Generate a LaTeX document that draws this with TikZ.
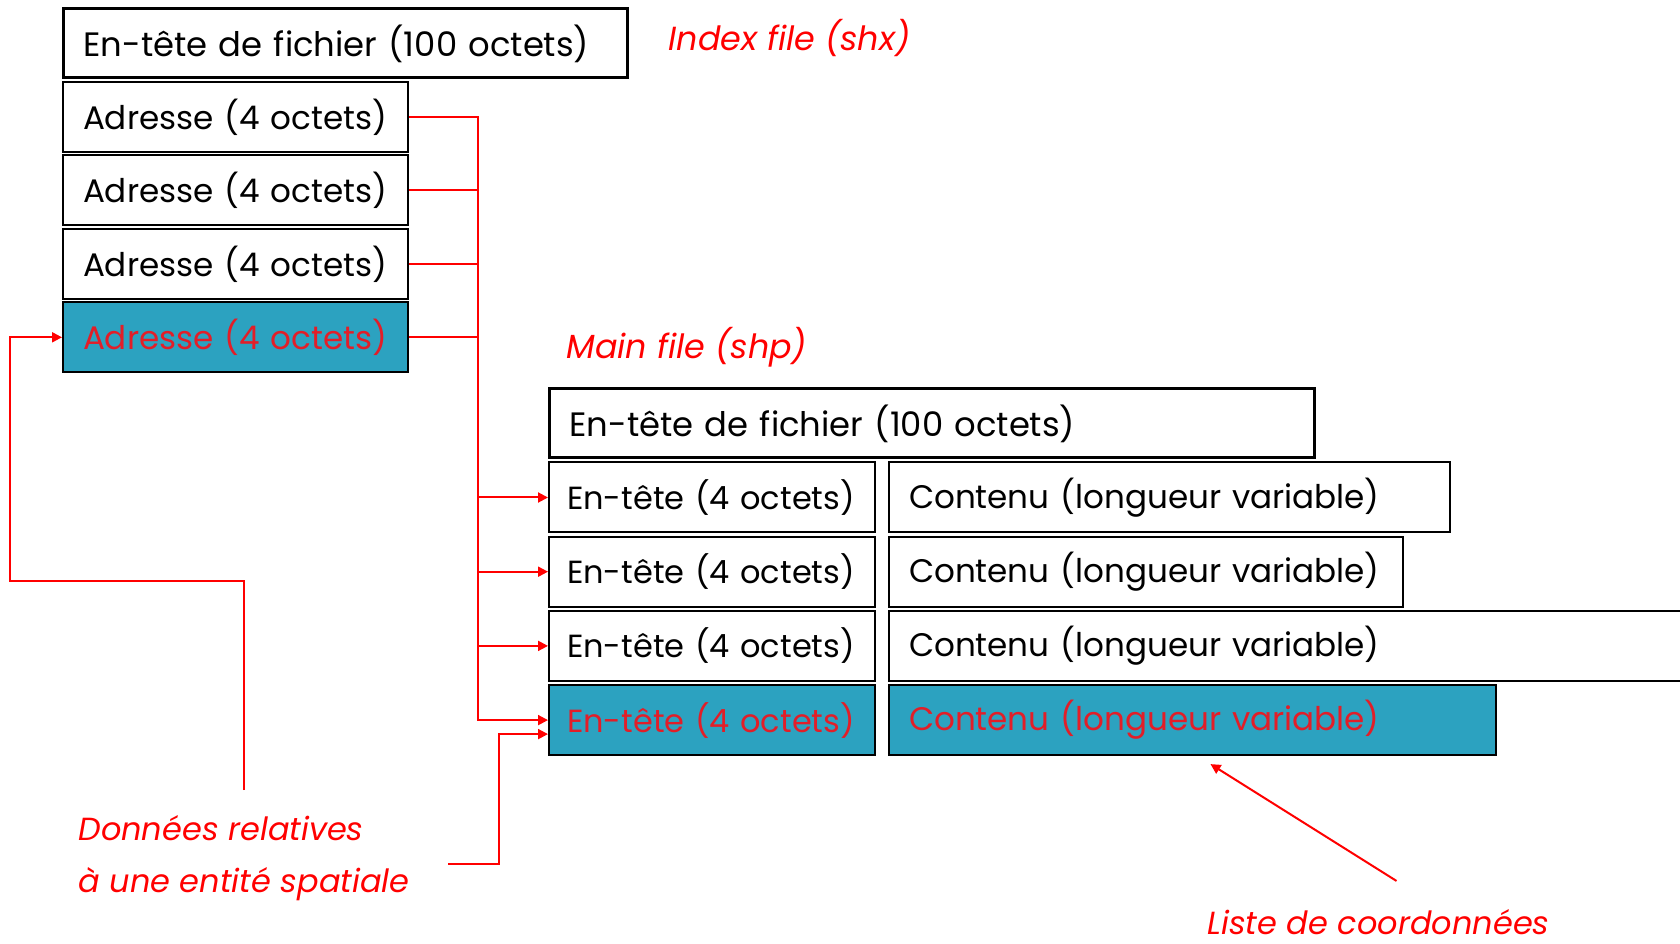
\documentclass[tikz,border=0pt]{standalone}
\usepackage{fontspec}
\setmainfont{Poppins}
\usetikzlibrary{calc}
\usetikzlibrary{positioning}
\usetikzlibrary{arrows.meta}

\definecolor{shpteal}{RGB}{44,162,192}
\definecolor{shpred}{RGB}{226,30,40}
\definecolor{notered}{RGB}{255,0,0}

\begin{document}
\begin{tikzpicture}[x=0.5pt,y=0.5pt,
  cell/.style={draw, line width=1pt, minimum height=35pt, inner xsep=10pt,
               inner ysep=0pt, align=left, text width=#1,
               font=\fontsize{16.3}{19}\selectfont},
  headcell/.style={cell=#1, line width=1.5pt, minimum height=34.5pt,
               font=\fontsize{16.9}{19}\selectfont},
  entcell/.style={cell=145pt, inner xsep=9pt, font=\fontsize{16}{19}\selectfont},
  hit/.style={fill=shpteal, text=shpred},
  note/.style={text=notered, inner sep=0pt, align=left,
               font=\fontsize{16}{25.7}\selectfont\itshape},
  title/.style={note, font=\fontsize{16.7}{20}\selectfont\itshape},
  link/.style={notered, line width=1pt},
  linkarrow/.style={link, -{Triangle[length=5pt,width=5pt]}}]
\useasboundingbox (0,0) rectangle (1680,943);
% index file (shx)
\node[headcell=262pt, anchor=north west] (hdrIdx) at (62,935.5)
  {En-tête de fichier (100 octets)};
\node[cell=152.5pt, below right=0.8pt and 0pt of hdrIdx.south west] (adr1) {Adresse (4 octets)};
\node[cell=152.5pt, below right=0.7pt and 0pt of adr1.south west] (adr2) {Adresse (4 octets)};
\node[cell=152.5pt, below right=0.7pt and 0pt of adr2.south west] (adr3) {Adresse (4 octets)};
\node[cell=152.5pt, hit, below right=0.7pt and 0pt of adr3.south west] (adr4) {Adresse (4 octets)};
% main file (shp)
\node[headcell=362.5pt, anchor=north west] (hdrMain) at (548,555.5)
  {En-tête de fichier (100 octets)};
\node[entcell, below right=1pt and 0pt of hdrMain.south west] (ent1) {En-tête (4 octets)};
\node[entcell, below right=1.1pt and 0pt of ent1.south west] (ent2) {En-tête (4 octets)};
\node[entcell, below right=1.1pt and 0pt of ent2.south west] (ent3) {En-tête (4 octets)};
\node[entcell, hit, below right=1.1pt and 0pt of ent3.south west] (ent4) {En-tête (4 octets)};
\node[cell=260.5pt, right=6pt of ent1] (cnt1) {Contenu (longueur variable)};
\node[cell=237pt, right=6pt of ent2] (cnt2) {Contenu (longueur variable)};
\node[cell=390pt, right=6pt of ent3] (cnt3) {Contenu (longueur variable)};
\node[cell=283.5pt, hit, right=6pt of ent4] (cnt4) {Contenu (longueur variable)};
% labels
\node[title, anchor=west] (idxLbl) at (668,905) {Index file (shx)};
\node[title, anchor=west] (mainLbl) at (566,596) {Main file (shp)};
\node[note, anchor=west] (dataLbl) at (78,85) {Données relatives\\à une entité spatiale};
\node[note, anchor=west] (coordLbl) at (1207,21) {Liste de coordonnées};
% links
\coordinate (bus) at (478,0);
\coordinate (loopCorner) at (10,362);
\coordinate (dataTop) at (244,153);
\coordinate (dataEnd) at (448,79);
\draw[linkarrow] (adr1.east) -| (bus |- ent1.west) -- (ent1.west);
\draw[linkarrow] (adr2.east) -| (bus |- ent2.west) -- (ent2.west);
\draw[linkarrow] (adr3.east) -| (bus |- ent3.west) -- (ent3.west);
\draw[linkarrow] (adr4.east) -| (bus |- ent4.west) -- (ent4.west);
\draw[linkarrow] (dataTop) |- (loopCorner) |- (adr4.west);
\draw[linkarrow] (dataEnd) -- ++(51,0) |- ([yshift=-7pt]ent4.west);
\draw[linkarrow] ([xshift=9pt,yshift=14pt]coordLbl.north) -- ($(cnt4.south)+(18,-8)$);
\end{tikzpicture}
\end{document}
